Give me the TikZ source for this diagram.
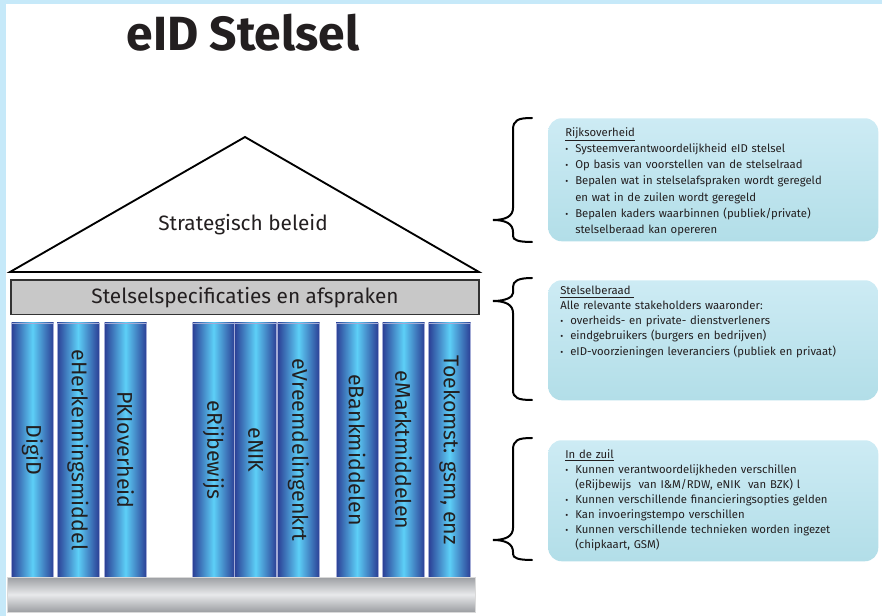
\documentclass[tikz,border=0pt]{standalone}
\usepackage{fontspec}
\setmainfont{Fira Sans}

\definecolor{frameblue}{HTML}{C6E9F9}
\definecolor{pillardark}{HTML}{2B3F95}
\definecolor{pillarlight}{HTML}{5DCFF7}
\definecolor{pillarrim}{HTML}{A3ABD6}
\definecolor{basedark}{HTML}{9C9EA2}
\definecolor{baselight}{HTML}{E8E9EB}
\definecolor{specgray}{HTML}{C8C8C8}
\definecolor{boxtop}{HTML}{CDEBF4}
\definecolor{boxbottom}{HTML}{B2DEE8}
\definecolor{inktext}{HTML}{231F20}

% bullet line with hanging indent
\newcommand{\punt}{\par\hangindent=7.5pt\hangafter=1\noindent\makebox[7.5pt][l]{\scalebox{0.8}{\textbullet}}}
\newcommand{\verder}{\hfill\break}

\begin{document}
\begin{tikzpicture}[x=0.75pt,y=0.75pt,yscale=-1,xscale=1,
	pillar/.style={draw=pillarrim, line width=0.5pt, left color=pillardark, right color=pillardark, middle color=pillarlight, minimum width=31.5pt, minimum height=190.5pt, inner sep=0pt, font=\fontsize{16}{19}\selectfont, text=inktext},
	bigtext/.style={inner sep=0pt, font=\fontsize{15.6}{19}\selectfont, text=inktext},
	infobox/.style={rounded corners=10pt, top color=boxtop, bottom color=boxbottom, minimum width=247.5pt, anchor=north west, inner sep=0pt},
	infotext/.style={anchor=north west, inner sep=0pt, text width=240pt, align=left, text=inktext},
	accolade/.style={line width=1.5pt, line cap=round}
	]
	\useasboundingbox (0,0) rectangle (882,616);

	% frame
	\fill[frameblue] (0,0) rectangle (882,4);
	\fill[frameblue] (0,0) rectangle (6,616);

	% Title
	\node[inner sep=0pt, font=\bfseries\fontsize{36}{40}\selectfont, text=inktext] (titel) at (243,33) {eID Stelsel};

	% Roof
	\coordinate (dakL) at (10,272);
	\coordinate (dakT) at (245,137);
	\coordinate (dakR) at (479,272);
	\draw[line width=1.4pt] (dakL) -- (dakT) -- (dakR) -- cycle;
	\node[bigtext] (beleid) at (243,225) {Strategisch beleid};

	% Specifications bar
	\node[bigtext, draw=black!80, line width=1pt, fill=specgray, minimum width=351pt, minimum height=26pt] (afspraken) at (245,297.5) {Stelselspecificaties en afspraken};

	% Pillars
	\node[pillar] (digid) at (32.5,450) {\rotatebox{-90}{DigiD}};
	\node[pillar] (eherk) at (78,450) {\rotatebox{-90}{eHerkenningsmiddel}};
	\node[pillar] (pki) at (125.5,450) {\rotatebox{-90}{PKIoverheid}};
	\node[pillar] (erijb) at (213.5,450) {\rotatebox{-90}{eRijbewijs}};
	\node[pillar] (enik) at (255.5,450) {\rotatebox{-90}{eNIK}};
	\node[pillar] (evreemd) at (298.5,450) {\rotatebox{-90}{eVreemdelingenkrt}};
	\node[pillar] (ebank) at (357,450) {\rotatebox{-90}{eBankmiddelen}};
	\node[pillar] (emarkt) at (403.5,450) {\rotatebox{-90}{eMarktmiddelen}};
	\node[pillar] (toekomst) at (449.5,450) {\rotatebox{-90}{Toekomst: gsm, enz}};

	% Base
	\node[draw=white!85!black, line width=0.5pt, top color=basedark, bottom color=basedark, middle color=baselight, minimum width=351pt, minimum height=26.25pt, inner sep=0pt] (sokkel) at (241,594.5) {};

	% Info boxes
	\node[infobox, minimum height=92.25pt] (rijkbox) at (548,118) {};
	\node[infobox, minimum height=90pt] (beraadbox) at (548,280) {};
	\node[infobox, minimum height=90.75pt] (zuilbox) at (548,440) {};

	\node[infotext, font=\fontsize{8.5}{12.2}\selectfont] (rijktekst) at (565,127) {\underline{Rijksoverheid}
		\punt Systeemverantwoordelijkheid eID stelsel
		\punt Op basis van voorstellen van de stelselraad
		\punt Bepalen wat in stelselafspraken wordt geregeld\verder en wat in de zuilen wordt geregeld
		\punt Bepalen kaders waarbinnen (publiek/private)\verder stelselberaad kan opereren\par};

	\node[infotext, font=\fontsize{8.5}{11.3}\selectfont] (beraadtekst) at (560,286) {\underline{Stelselberaad\ }\par
		Alle relevante stakeholders waaronder:
		\punt overheids- en private- dienstverleners
		\punt eindgebruikers (burgers en bedrijven)
		\punt eID-voorzieningen leveranciers (publiek en privaat)\par};

	\node[infotext, font=\fontsize{8.5}{11.3}\selectfont] (zuiltekst) at (565,449) {\underline{In de zuil}
		\punt Kunnen verantwoordelijkheden verschillen\verder (eRijbewijs\ \ van I\&M/RDW, eNIK\ \ van BZK) l
		\punt Kunnen verschillende financieringsopties gelden
		\punt Kan invoeringstempo verschillen
		\punt Kunnen verschillende technieken worden ingezet\verder (chipkaart, GSM)\par};

	% Braces
	\draw[accolade] (532,118) .. controls (518,118) and (513,120) .. (513,130) -- (513,208) .. controls (513,216) and (506,220) .. (493,220) .. controls (506,220) and (513,224) .. (513,232) -- (513,236) .. controls (513,240) and (518,242) .. (532,242);
	\draw[accolade] (532,278) .. controls (518,278) and (513,281) .. (513,287) -- (513,293) .. controls (513,297) and (506,301) .. (493,301) .. controls (506,301) and (513,305) .. (513,313) -- (513,390) .. controls (513,398) and (518,400) .. (532,400);
	\draw[accolade] (532,438) .. controls (518,438) and (513,440) .. (513,450) -- (513,528) .. controls (513,536) and (506,540) .. (493,540) .. controls (506,540) and (513,544) .. (513,552) -- (513,554) .. controls (513,558) and (518,560) .. (532,560);

\end{tikzpicture}
\end{document}
